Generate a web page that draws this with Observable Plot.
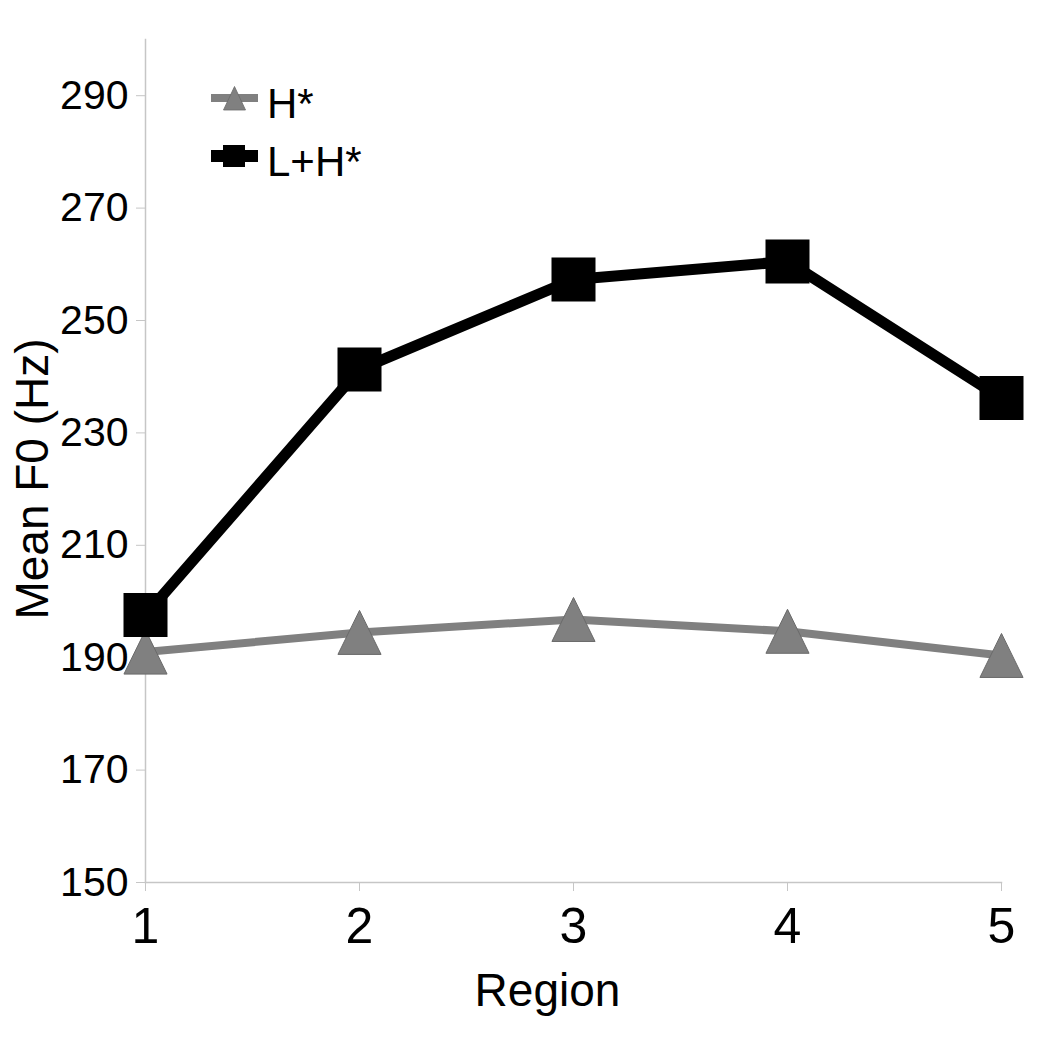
<!DOCTYPE html>
<html>
<head>
<meta charset="utf-8">
<script src="https://cdn.jsdelivr.net/npm/d3@7"></script>
<script src="https://cdn.jsdelivr.net/npm/@observablehq/plot@0.6"></script>
<style>
  html, body { margin: 0; padding: 0; background: #fff; }
  #wrap { position: relative; width: 1050px; height: 1043px; font-family: "Liberation Sans", Arial, sans-serif; }
  #legend { position: absolute; left: 200px; top: 75px; }
</style>
</head>
<body>
<div id="wrap"></div>
<script>
const regions = [1, 2, 3, 4, 5];
const hStar = [191.0, 194.5, 196.8, 194.7, 190.4];
const lhStar = [197.6, 241.3, 257.3, 260.5, 236.2];
const seriesNames = ["H*", "L+H*"];
const yTicks = [150, 170, 190, 210, 230, 250, 270, 290];
const xLabel = "Region";
const yLabel = "Mean F0 (Hz)";

const hData = regions.map((r, i) => ({region: r, f0: hStar[i]}));
const lhData = regions.map((r, i) => ({region: r, f0: lhStar[i]}));

// bbox-centered triangle and square symbols (Excel-like markers)
const tri = {draw(ctx, size) { const s = Math.sqrt(size / Math.PI); ctx.moveTo(0, -s); ctx.lineTo(s * 0.98, s); ctx.lineTo(-s * 0.98, s); ctx.closePath(); }};
const sq = {draw(ctx, size) { const s = Math.sqrt(size / Math.PI); ctx.rect(-s, -s, 2 * s, 2 * s); }};

const font = "Liberation Sans, Arial, sans-serif";
const axisColor = "#c6c6c6";

const chart = Plot.plot({
  width: 1050,
  height: 1043,
  marginLeft: 145,
  marginRight: 49,
  marginTop: 39,
  marginBottom: 161,
  style: {fontFamily: font, background: "#fff", color: "#000"},
  x: {domain: [1, 5]},
  y: {domain: [150, 300]},
  marks: [
    Plot.frame({anchor: "left", stroke: axisColor, strokeWidth: 1.5}),
    Plot.frame({anchor: "bottom", stroke: axisColor, strokeWidth: 1.5}),
    Plot.axisY(yTicks, {tickSize: 9, tickPadding: 8, fontSize: 41, stroke: axisColor, fill: "#000", label: null}),
    Plot.axisX(regions, {tickSize: 9, tickPadding: 16, fontSize: 50, stroke: axisColor, fill: "#000", label: null, tickFormat: d => String(d)}),
    Plot.line(hData, {x: "region", y: "f0", stroke: "#808080", strokeWidth: 8}),
    Plot.line(lhData, {x: "region", y: "f0", stroke: "#000", strokeWidth: 11}),
    Plot.dot(hData, {x: "region", y: "f0", symbol: tri, r: 22, fill: "#808080", stroke: "#6a6a6a", strokeWidth: 1}),
    Plot.dot(lhData, {x: "region", y: "f0", symbol: sq, r: 22, fill: "#000", stroke: "#000", strokeWidth: 0}),
    Plot.text([yLabel], {frameAnchor: "left", rotate: -90, textAnchor: "middle", lineAnchor: "middle", dx: -112, dy: 18, fontSize: 46, fill: "#000"}),
    Plot.text([xLabel], {frameAnchor: "bottom", textAnchor: "middle", lineAnchor: "middle", dx: -26, dy: 109, fontSize: 46, fill: "#000"})
  ]
});

const wrap = document.getElementById("wrap");
wrap.appendChild(chart);

// Legend
const lg = d3.select(wrap).append("svg").attr("id", "legend").attr("width", 200).attr("height", 120)
  .style("font-family", font);
// H*
lg.append("line").attr("x1", 11).attr("x2", 58).attr("y1", 23).attr("y2", 23).attr("stroke", "#808080").attr("stroke-width", 8);
lg.append("path").attr("d", "M34.5,11.5L45.5,35L23.5,35Z").attr("fill", "#808080").attr("stroke", "#6a6a6a").attr("stroke-width", 0.8);
lg.append("text").attr("x", 67).attr("y", 42.5).attr("font-size", 42).text(seriesNames[0]);
// L+H*
lg.append("line").attr("x1", 11).attr("x2", 58).attr("y1", 81).attr("y2", 81).attr("stroke", "#000").attr("stroke-width", 12);
lg.append("rect").attr("x", 23).attr("y", 70).attr("width", 22).attr("height", 22).attr("fill", "#000");
lg.append("text").attr("x", 67).attr("y", 101).attr("font-size", 42).text(seriesNames[1]);
</script>
</body>
</html>
